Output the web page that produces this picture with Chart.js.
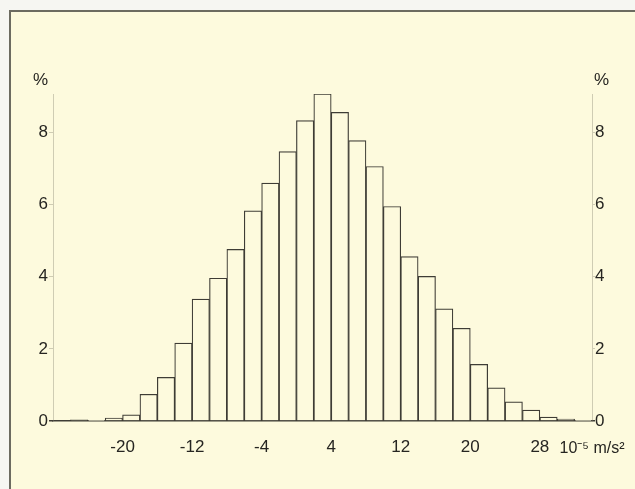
<!DOCTYPE html>
<html>
<head>
<meta charset="utf-8">
<script src="https://cdn.jsdelivr.net/npm/chart.js@4/dist/chart.umd.min.js"></script>
<style>
  html, body { margin: 0; padding: 0; background: #f6f6f2; width: 635px; height: 489px; overflow: hidden; }
  #panel {
    position: absolute; left: 9px; top: 10px; width: 640px; height: 490px;
    background: #fdfadd;
    border-left: 2px solid #6c6b60; border-top: 2px solid #6c6b60;
  }
  #chart { position: absolute; left: 0; top: 0; }
</style>
</head>
<body>
<div id="panel"></div>
<canvas id="chart" width="635" height="489"></canvas>
<script>
// Histogram of gravity residuals, bins of 2 (10^-5 m/s^2), share in percent
const binStarts = [-28, -26, -24, -22, -20, -18, -16, -14, -12, -10, -8, -6, -4, -2, 0,
                   2, 4, 6, 8, 10, 12, 14, 16, 18, 20, 22, 24, 26, 28, 30, 32];
const binWidth = 2;
const percents = [0.00, 0.03, 0.01, 0.08, 0.17, 0.74, 1.21, 2.16, 3.38, 3.96, 4.76, 5.83, 6.60, 7.47, 8.33,
                  9.07, 8.56, 7.78, 7.06, 5.95, 4.56, 4.01, 3.11, 2.57, 1.57, 0.92, 0.53, 0.30, 0.11, 0.05, 0.01];
const xTicks = [-20, -12, -4, 4, 12, 20, 28];
const yTicks = [0, 2, 4, 6, 8];
const unitLabel = '10\u207B\u2075 m/s\u00B2';
const unitAt = 34;   // unit text sits at the right end of the x axis
const yUnit = '%';

const FONT = '"Liberation Sans", Arial, Helvetica, sans-serif';
const INK = '#262521';
const LINE = '#3e3c35';
const FAINT = 'rgba(120,118,100,0.35)';

const points = binStarts.map((s, i) => ({ x: s + binWidth / 2, y: percents[i] }));

const percentSigns = {
  id: 'percentSigns',
  afterDraw(chart) {
    const { ctx, chartArea } = chart;
    const yl = chart.scales.y, yr = chart.scales.y2;
    ctx.save();
    ctx.font = '17px ' + FONT;
    ctx.fillStyle = INK;
    ctx.textBaseline = 'middle';
    ctx.textAlign = 'right';
    ctx.fillText(yUnit, yl.right - 5, chartArea.top - 14);
    ctx.textAlign = 'left';
    ctx.fillText(yUnit, yr.left + 2, chartArea.top - 14);
    ctx.restore();
  }
};

const yCommon = {
  min: 0,
  max: 9.07,
  afterBuildTicks(scale) { scale.ticks = yTicks.map(v => ({ value: v })); },
  grid: {
    drawOnChartArea: false,
    drawTicks: true,
    tickLength: 4,
    color: ctx => (ctx.tick && ctx.tick.value === 0) ? LINE : FAINT,
    lineWidth: ctx => (ctx.tick && ctx.tick.value === 0) ? 1.5 : 1
  },
  border: { display: true, color: FAINT, width: 1 },
  ticks: { font: { family: FONT, size: 17 }, color: INK, padding: 1 }
};

new Chart(document.getElementById('chart'), {
  type: 'bar',
  data: {
    datasets: [{
      data: points,
      backgroundColor: '#fdfadd',
      borderColor: LINE,
      borderWidth: 1.2,
      borderSkipped: 'start',
      barPercentage: 1,
      categoryPercentage: 1
    }]
  },
  options: {
    responsive: false,
    devicePixelRatio: 1,
    animation: false,
    events: [],
    layout: { padding: { top: 94, left: 0, right: 0, bottom: 0 } },
    plugins: { legend: { display: false }, tooltip: { enabled: false } },
    scales: {
      x: {
        type: 'linear',
        offset: false,
        min: binStarts[0],
        max: binStarts[binStarts.length - 1] + binWidth,
        afterBuildTicks(scale) {
          scale.ticks = xTicks.map(v => ({ value: v })).concat([{ value: unitAt }]);
        },
        afterFit(scale) {
          scale.height = 68;
          // the unit text may hang past the plot edge; keep the plot width fixed
          scale.paddingLeft = 0;
          scale.paddingRight = 0;
        },
        grid: { display: false, drawTicks: false },
        border: { display: true, color: LINE, width: 1.5 },
        ticks: {
          padding: 16,
          maxRotation: 0,
          autoSkip: false,
          color: INK,
          font: ctx => (ctx.tick && ctx.tick.value === unitAt)
            ? { family: FONT, size: 16, lineHeight: 1.4 }
            : { family: FONT, size: 17 },
          callback: v => v === unitAt ? unitLabel : String(v)
        }
      },
      y: Object.assign({}, yCommon, {
        position: 'left',
        afterFit(scale) { scale.width = 53; }
      }),
      y2: Object.assign({}, yCommon, {
        position: 'right',
        afterFit(scale) { scale.width = 43; },
        grid: Object.assign({}, yCommon.grid, { tickLength: 3 }),
        ticks: { font: { family: FONT, size: 17 }, color: INK, padding: 0 }
      })
    }
  },
  plugins: [percentSigns]
});
</script>
</body>
</html>
